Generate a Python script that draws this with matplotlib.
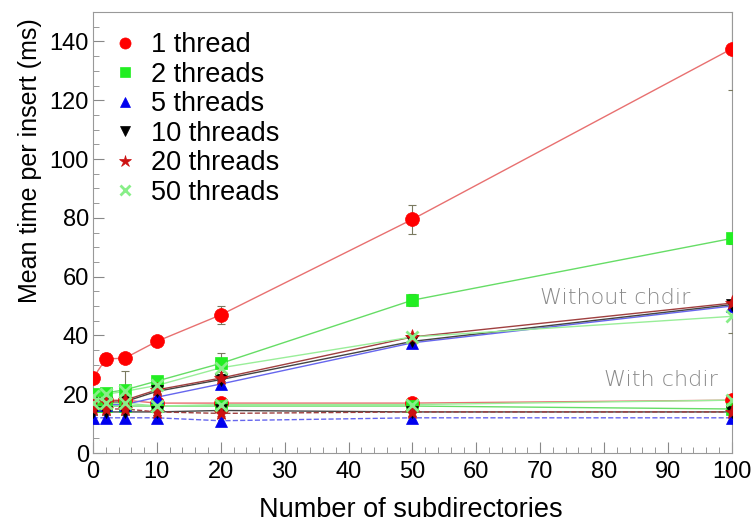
import matplotlib

matplotlib.use("Agg")
import matplotlib.pyplot as plt
from matplotlib.ticker import MultipleLocator

# Number of subdirectories tested
subdirs = [0, 2, 5, 10, 20, 50, 100]

thread_labels = ["1 thread", "2 threads", "5 threads", "10 threads", "20 threads", "50 threads"]

# Mean insert time (ms), directory walk without chdir
no_chdir_1 = [25.5, 32.0, 32.3, 38.0, 47.0, 79.5, 137.5]
no_chdir_2 = [20.0, 20.5, 21.5, 24.5, 30.5, 52.0, 73.0]
no_chdir_5 = [16.5, 16.5, 16.5, 19.0, 23.5, 37.5, 50.0]
no_chdir_10 = [17.0, 17.0, 17.5, 21.0, 25.0, 38.0, 50.5]
no_chdir_20 = [17.5, 17.5, 18.0, 21.5, 25.5, 39.5, 51.0]
no_chdir_50 = [19.5, 20.0, 21.0, 23.0, 29.0, 39.5, 46.5]

no_chdir_err_1 = [1.0, 2.0, 1.0, 1.0, 3.0, 5.0, 14.0]
no_chdir_err_2 = [1.0, 1.0, 1.0, 1.5, 3.5, 2.0, 2.0]
no_chdir_err_5 = [0.5, 0.5, 0.5, 1.0, 1.0, 1.0, 1.0]
no_chdir_err_10 = [0.5, 0.5, 0.5, 1.0, 1.0, 1.0, 1.0]
no_chdir_err_20 = [0.5, 0.5, 0.5, 1.0, 1.0, 1.0, 1.0]
no_chdir_err_50 = [1.0, 1.5, 7.0, 1.5, 1.5, 1.5, 5.5]

# Mean insert time (ms), directory walk with chdir
chdir_1 = [18.0, 18.0, 18.0, 17.0, 17.0, 17.0, 18.0]
chdir_2 = [16.0, 16.0, 16.0, 16.0, 16.0, 16.0, 15.0]
chdir_5 = [12.0, 12.0, 12.0, 12.0, 11.0, 12.0, 12.0]
chdir_10 = [14.0, 14.0, 14.0, 14.0, 14.5, 14.0, 14.0]
chdir_20 = [15.0, 15.0, 15.0, 14.0, 13.5, 14.0, 14.0]
chdir_50 = [17.0, 17.0, 17.0, 16.0, 16.5, 16.5, 18.0]

chdir_err = [1.0, 1.0, 1.0, 1.0, 1.0, 1.5, 1.0]

no_chdir = [no_chdir_1, no_chdir_2, no_chdir_5, no_chdir_10, no_chdir_20, no_chdir_50]
no_chdir_err = [no_chdir_err_1, no_chdir_err_2, no_chdir_err_5,
                no_chdir_err_10, no_chdir_err_20, no_chdir_err_50]
with_chdir = [chdir_1, chdir_2, chdir_5, chdir_10, chdir_20, chdir_50]

# marker colour, line colour, marker, size, chdir linestyle
STYLES = [
    ("#ff0000", "#e87070", "o", 10, "-"),
    ("#22ee22", "#66dd66", "s", 9, "-"),
    ("#0000ee", "#6666ee", "^", 9, "--"),
    ("#000000", "#444444", "v", 9, "-"),
    ("#cc1111", "#a04040", "*", 11, "--"),
    ("#88ee88", "#99ee99", "x", 9, "-"),
]

plt.rcParams["font.family"] = ["Liberation Sans", "DejaVu Sans"]

fig = plt.figure(figsize=(7.56, 5.22), dpi=100)
ax = fig.add_axes([0.123, 0.132, 0.845, 0.845])

for label, ys, es, yc, (mc, lc, mk, ms, ls) in zip(
        thread_labels, no_chdir, no_chdir_err, with_chdir, STYLES):
    ax.plot(subdirs, ys, color=lc, lw=1.0, zorder=2)
    ax.plot(subdirs, yc, color=lc, lw=1.0, ls=ls, zorder=2)
    for vals, errs in ((ys, es), (yc, chdir_err)):
        ax.errorbar(subdirs, vals, yerr=errs, fmt="none", ecolor="#7a7a60",
                    elinewidth=0.8, capsize=3, capthick=0.8, zorder=3)
    ax.plot(subdirs, ys, ls="none", marker=mk, ms=ms, color=mc, mec=mc,
            mew=2 if mk == "x" else 0.5, zorder=4, label=label)
    ax.plot(subdirs, yc, ls="none", marker=mk, ms=ms, color=mc, mec=mc,
            mew=2 if mk == "x" else 0.5, zorder=4)

ax.text(81.8, 52.6, "Without chdir", color="#8a8a8a", fontsize=16,
        family="DejaVu Sans", fontweight="light", ha="center", va="center")
ax.text(88.9, 24.8, "With chdir", color="#8a8a8a", fontsize=16,
        family="DejaVu Sans", fontweight="light", ha="center", va="center")

ax.set_xlim(0, 100)
ax.set_ylim(0, 150)
ax.xaxis.set_major_locator(MultipleLocator(10))
ax.xaxis.set_minor_locator(MultipleLocator(2))
ax.yaxis.set_major_locator(MultipleLocator(20))
ax.yaxis.set_minor_locator(MultipleLocator(5))
ax.tick_params(which="both", direction="in", top=False, right=False,
               color="#888888", labelsize=17)
ax.tick_params(which="major", length=8, width=0.8)
ax.tick_params(which="minor", length=4, width=0.6)
ax.tick_params(axis="x", which="major", pad=6)
ax.tick_params(axis="y", which="major", pad=3)
for spine in ax.spines.values():
    spine.set_color("#999999")
    spine.set_linewidth(0.8)

ax.set_xlabel("Number of subdirectories", fontsize=19.5, va="center")
ax.xaxis.set_label_coords(0.498, -0.129)
ax.set_ylabel("Mean time per insert (ms)", fontsize=18, va="center")
ax.yaxis.set_label_coords(-0.099, 0.664)

ax.legend(loc="upper left", frameon=False, fontsize=19.5, handlelength=1.0,
          handletextpad=0.45, labelspacing=0.13, borderaxespad=0.0,
          markerscale=0.8, bbox_to_anchor=(0.0125, 0.979))

fig.savefig("out.png", dpi=100)
